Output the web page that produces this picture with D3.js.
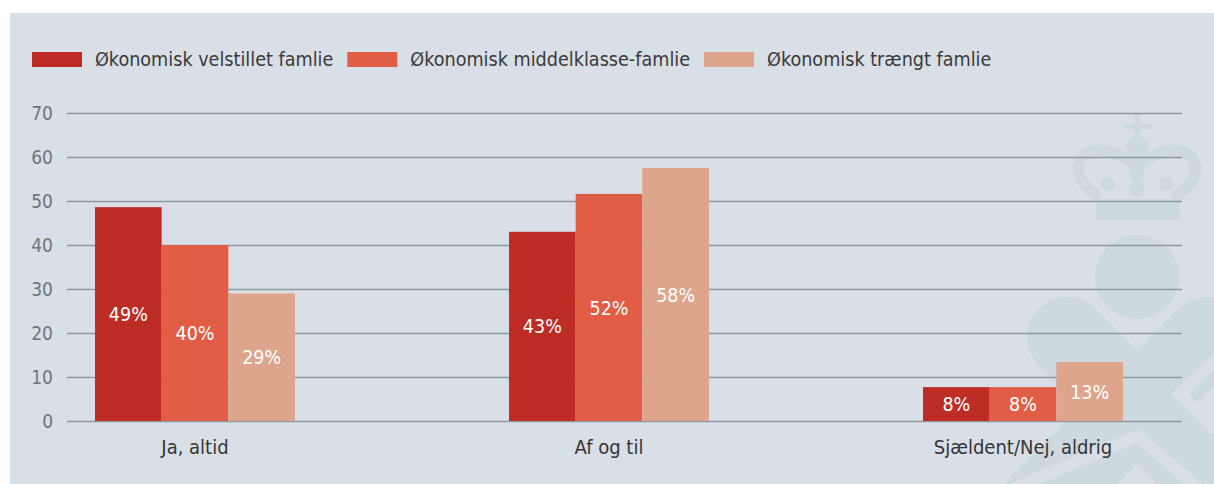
<!DOCTYPE html>
<html lang="da">
<head>
<meta charset="UTF-8">
<title>Familiens økonomi</title>
<style>
  body { margin: 0; background: #fff; }
  svg text { font-family: "Liberation Sans Narrow", "DejaVu Sans Condensed", "Roboto", sans-serif; }
  .grid line { stroke: #8e989f; stroke-width: 1.5px; }
  .grid path { display: none; }
  .grid text { fill: #6d767d; font-size: 19px; }
  .cat { fill: #353535; font-size: 20px; }
  .legend text { fill: #3a3a3a; font-size: 19.6px; }
  .val { fill: #fff; font-size: 19.5px; }
</style>
</head>
<body>
<div id="chart"></div>
<script src="https://d3js.org/d3.v7.min.js"></script>
<script>
// data
const categories = ["Ja, altid", "Af og til", "Sjældent/Nej, aldrig"];
const series = ["Økonomisk velstillet famlie", "Økonomisk middelklasse-famlie", "Økonomisk trængt famlie"];
const colors = ["#be2d25", "#e25d46", "#dea58d"];
const velstillet = [48.6, 43, 7.7];
const middelklasse = [40, 51.6, 7.7];
const traengt = [29, 57.5, 13.4];
const yTicks = [0, 10, 20, 30, 40, 50, 60, 70];

const values = [velstillet, middelklasse, traengt];

const width = 1214, height = 484;
const left = 67, right = 1182;

const svg = d3.select("#chart").append("svg")
  .attr("width", width)
  .attr("height", height);

// panel background
svg.append("rect")
  .attr("x", 10).attr("y", 13)
  .attr("width", width - 10).attr("height", height - 13)
  .attr("fill", "#d8dfe6");

// watermark (crown + logo), just decoration
const wm = svg.append("g").attr("fill", "#cdd8df").attr("stroke", "none");
wm.append("path")
  .attr("d", "M1067,337 L1260,530 M1207,337 L1010,534")
  .attr("stroke", "#cdd8df").attr("stroke-width", 80).attr("stroke-linecap", "round");
wm.append("path")
  .attr("d", "M1216,360 L1180,394 L1216,430 M1010,490 L1138,436 L1200,490")
  .attr("fill", "none").attr("stroke", "#d8dfe6").attr("stroke-width", 12);
wm.append("circle").attr("cx", 1137).attr("cy", 277).attr("r", 42);
wm.append("rect").attr("x", 1096).attr("y", 199).attr("width", 84).attr("height", 21);
wm.append("rect").attr("x", 1134.5).attr("y", 113).attr("width", 5).attr("height", 28);
wm.append("rect").attr("x", 1123).attr("y", 124).attr("width", 29).attr("height", 5);
wm.append("circle").attr("cx", 1137).attr("cy", 147).attr("r", 11);
wm.append("path")
  .attr("d", "M1100,197 C1080,186 1070,166 1086,154 C1100,145 1120,154 1137,166 C1154,154 1174,145 1188,154 C1204,166 1194,186 1174,197")
  .attr("fill", "none").attr("stroke", "#cdd8df").attr("stroke-width", 11);
[[1108, 184, 7], [1137, 174, 8], [1137, 189, 8], [1166, 184, 7], [1088, 188, 6], [1186, 188, 6]]
  .forEach(c => wm.append("circle").attr("cx", c[0]).attr("cy", c[1]).attr("r", c[2]));

// scales
const y = d3.scaleLinear().domain([0, 70]).range([421, 113]);
const x0 = d3.scaleBand().domain(categories).range([95, 1123]).paddingInner(0.517).paddingOuter(0);
const x1 = d3.scaleBand().domain(series).range([0, x0.bandwidth()]);
const color = d3.scaleOrdinal().domain(series).range(colors);

// gridlines + y labels
svg.append("g")
  .attr("class", "grid")
  .attr("transform", `translate(${left},0)`)
  .call(d3.axisLeft(y).tickValues(yTicks).tickSize(-(right - left)).tickPadding(14));

// bars
const groups = svg.append("g").selectAll("g")
  .data(categories)
  .join("g")
  .attr("transform", d => `translate(${x0(d)},0)`);

groups.selectAll("rect")
  .data((d, i) => series.map((s, j) => ({ s, v: values[j][i] })))
  .join("rect")
  .attr("x", d => x1(d.s))
  .attr("y", d => y(d.v))
  .attr("width", x1.bandwidth())
  .attr("height", d => y(0) - y(d.v))
  .attr("fill", d => color(d.s));

groups.selectAll("text")
  .data((d, i) => series.map((s, j) => ({ s, v: values[j][i] })))
  .join("text")
  .attr("class", "val")
  .attr("x", d => x1(d.s) + x1.bandwidth() / 2)
  .attr("y", d => (y(d.v) + y(0)) / 2)
  .attr("dy", "0.36em")
  .attr("text-anchor", "middle")
  .text(d => Math.round(d.v) + "%");

// category labels
svg.append("g").selectAll("text")
  .data(categories)
  .join("text")
  .attr("class", "cat")
  .attr("x", d => x0(d) + x0.bandwidth() / 2)
  .attr("y", 454)
  .attr("text-anchor", "middle")
  .text(d => d);

// legend
const legend = svg.append("g").attr("class", "legend");
let lx = 32;
series.forEach((s, i) => {
  legend.append("rect")
    .attr("x", lx).attr("y", 52)
    .attr("width", 50).attr("height", 15)
    .attr("fill", colors[i]);
  const t = legend.append("text")
    .attr("x", lx + 63).attr("y", 66)
    .text(s);
  lx += 63 + t.node().getComputedTextLength() + 14;
});
</script>
</body>
</html>
